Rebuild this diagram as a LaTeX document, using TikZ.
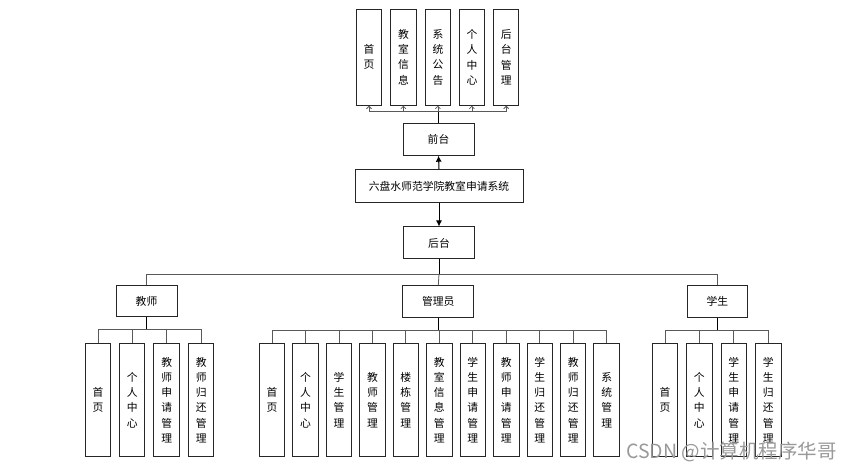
\documentclass[tikz,border=0pt]{standalone}
\usepackage{fontspec}
\newfontfamily\cjk{Noto Sans CJK SC}
\usetikzlibrary{arrows.meta,calc}
\begin{document}
\begin{tikzpicture}[x=1pt,y=-1pt,
  box/.style={draw=black!85,line width=1pt,fill=white,inner sep=0pt,font=\cjk\fontsize{10.8}{15.2}\selectfont,align=center},
  hbox/.style={box,minimum width=71pt,minimum height=32pt},
  vtop/.style={box,minimum width=25.5pt,minimum height=96pt},
  vbot/.style={box,minimum width=25.5pt,minimum height=112pt},
  conn/.style={draw=black!65,line width=0.8pt},
  trunk/.style={draw=black,line width=1pt},
  openarr/.style={conn,-{Straight Barb[length=2.5pt,width=5pt]}},
  solidarr/.style={trunk,-{Latex[length=6pt,width=6pt]}}]
\useasboundingbox (0,0) rectangle (852,470);
\fill[white] (0,0) rectangle (852,470);
% top level
\node[vtop] (t1) at (369,57.2) {首\\页};
\node[vtop] (t2) at (403.4,57.2) {教\\室\\信\\息};
\node[vtop] (t3) at (437.9,57.2) {系\\统\\公\\告};
\node[vtop] (t4) at (471.9,57.2) {个\\人\\中\\心};
\node[vtop] (t5) at (506.2,57.2) {后\\台\\管\\理};
\node[hbox] (qt) at (438.5,139.2) {前台};
\node[box,minimum width=168pt,minimum height=33pt] (sys) at (439,186) {六盘水师范学院教室申请系统};
\node[hbox] (ht) at (439,243) {后台};
\coordinate (b1) at (438.5,111.7);
\draw[trunk] (qt.north) -- (b1);
\foreach \i in {1,...,5}{\draw[openarr] (b1) -| (t\i.south);}
\draw[solidarr] (sys.north) -- (qt.south);
\draw[solidarr] (sys.south) -- (ht.north);
% second level
\node[box,minimum width=61pt,minimum height=31pt] (js) at (146.5,301.2) {教师};
\node[hbox] (gly) at (438.3,301.7) {管理员};
\node[box,minimum width=60pt,minimum height=32pt] (xs) at (717.3,301.7) {学生};
\coordinate (b2) at (439,274);
\draw[trunk] (ht.south) -- (b2);
\draw[conn] (b2) -| (js.north);
\draw[conn] (b2) -| (xs.north);
\draw[conn] (b2) -- (gly.north);
% teacher children
\node[vbot] (j1) at (98,400) {首\\页};
\node[vbot] (j2) at (132.2,400) {个\\人\\中\\心};
\node[vbot] (j3) at (166.7,400) {教\\师\\申\\请\\管\\理};
\node[vbot] (j4) at (201.2,400) {教\\师\\归\\还\\管\\理};
\coordinate (bj) at (146.5,329.6);
\draw[trunk] (js.south) -- (bj);
\foreach \i in {1,...,4}{\draw[conn] (bj) -| (j\i.north);}
% admin children
\foreach \i/\t in {1/{首\\页},2/{个\\人\\中\\心},3/{学\\生\\管\\理},4/{教\\师\\管\\理},5/{楼\\栋\\管\\理},6/{教\\室\\信\\息\\管\\理},7/{学\\生\\申\\请\\管\\理},8/{教\\师\\申\\请\\管\\理},9/{学\\生\\归\\还\\管\\理},10/{教\\师\\归\\还\\管\\理},11/{系\\统\\管\\理}}{
  \node[vbot] (g\i) at ({272+(\i-1)*33.47},400) {\t};
}
\coordinate (bg) at (438.3,330);
\draw[trunk] (gly.south) -- (bg);
\foreach \i in {1,...,11}{\draw[conn] (bg) -| (g\i.north);}
% student children
\node[vbot] (s1) at (665,400) {首\\页};
\node[vbot] (s2) at (699.3,400) {个\\人\\中\\心};
\node[vbot] (s3) at (733.8,400) {学\\生\\申\\请\\管\\理};
\node[vbot] (s4) at (768.3,400) {学\\生\\归\\还\\管\\理};
\coordinate (bs) at (717.3,330);
\draw[trunk] (xs.south) -- (bs);
\foreach \i in {1,...,4}{\draw[conn] (bs) -| (s\i.north);}
% watermark
\node[font=\cjk\fontsize{19.5}{19.5}\selectfont,text=black!40,inner sep=0pt] (wm) at (731.5,451.5) {CSDN @计算机程序华哥};
\end{tikzpicture}
\end{document}
